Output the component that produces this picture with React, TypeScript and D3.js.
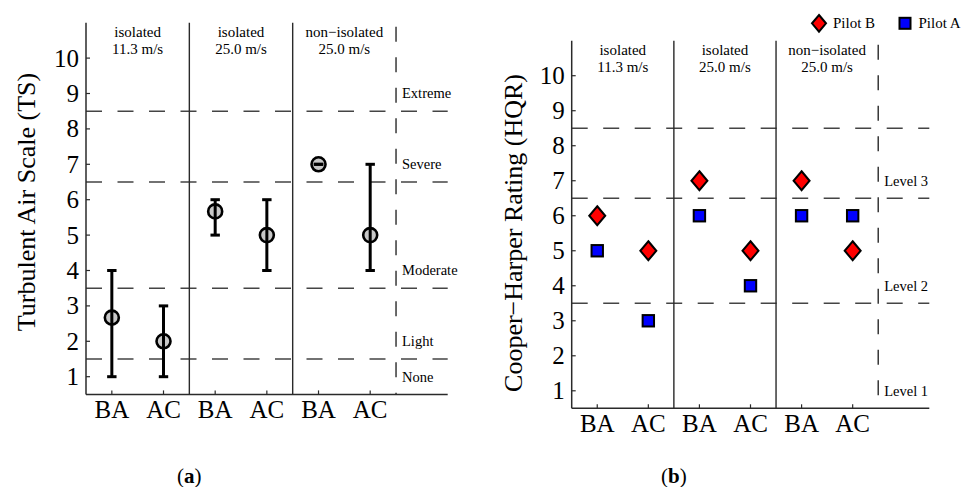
import React from 'react';
import * as d3 from 'd3';

const categories = ['BA', 'AC', 'BA', 'AC', 'BA', 'AC'];
const groupLine1 = ['isolated', 'isolated', 'non\u2212isolated'];
const groupLine2 = ['11.3 m/s', '25.0 m/s', '25.0 m/s'];
const yTickValues = [1, 2, 3, 4, 5, 6, 7, 8, 9, 10];

const tsMean = [2.67, 2, 5.67, 5, 7, 5];
const tsLow = [1, 1, 5, 4, 7, 4];
const tsHigh = [4, 3, 6, 6, 7, 7];
const tsBoundaries = [1.5, 3.5, 6.5, 8.5];
const tsLevelNames = ['None', 'Light', 'Moderate', 'Severe', 'Extreme'];
const tsLevelValues = [1, 2, 4, 7, 9];

const pilotB = [6, 5, 7, 5, 7, 5];
const pilotA = [5, 3, 6, 4, 6, 6];
const hqrBoundaries = [3.5, 6.5, 8.5];
const hqrLevelNames = ['Level 1', 'Level 2', 'Level 3'];
const hqrLevelValues = [1, 4, 7];

const FONT = '"Liberation Serif", "Times New Roman", serif';
const AXIS = '#2a2a2a';
const DASH = '#444';

type PanelProps = {
  x0: number; x1: number; yTop: number; yBottom: number;
  yLabel: string; yLabelX: number; yLabelY: number;
  boundaries: number[]; levelNames: string[]; levelValues: number[];
  caption: string; children: (x: d3.ScaleLinear<number, number>, y: d3.ScaleLinear<number, number>) => React.ReactNode;
};

function Panel(p: PanelProps) {
  const x = d3.scaleLinear().domain([0.5, 7.5]).range([p.x0, p.x1]);
  const y = d3.scaleLinear().domain([0.5, 11]).range([p.yBottom, p.yTop]);
  const positions = categories.map((_, i) => i + 1);
  const dividers = [2.5, 4.5];
  return (
    <g>
      {/* horizontal dashed boundaries */}
      {p.boundaries.map((b, i) => (
        <line key={'b' + i} x1={x(0.5)} x2={x(7.5)} y1={y(b)} y2={y(b)}
          stroke={DASH} strokeWidth={1.4} strokeDasharray="16,15.5" />
      ))}
      {/* dividers */}
      {dividers.map((d, i) => (
        <line key={'d' + i} x1={x(d)} x2={x(d)} y1={y(11)} y2={y(0.5)} stroke={AXIS} strokeWidth={1.4} />
      ))}
      <line x1={x(6.5)} x2={x(6.5)} y1={y(11)} y2={y(0.5)} stroke={AXIS} strokeWidth={1.4}
        strokeDasharray="15,15.5" strokeDashoffset={-4} />
      {/* axes */}
      <line x1={x(0.5)} x2={x(0.5)} y1={y(11)} y2={y(0.5)} stroke={AXIS} strokeWidth={1.5} />
      <line x1={x(0.5)} x2={x(7.5)} y1={y(0.5)} y2={y(0.5)} stroke={AXIS} strokeWidth={1.5} />
      {yTickValues.map(v => (
        <g key={'yt' + v}>
          <line x1={x(0.5)} x2={x(0.5) + 4} y1={y(v)} y2={y(v)} stroke={AXIS} strokeWidth={1.2} />
          <text x={x(0.5) - 7} y={y(v)} dy="0.34em" textAnchor="end" fontSize={25} fontFamily={FONT}>{v}</text>
        </g>
      ))}
      {positions.map((pos, i) => (
        <g key={'xt' + i}>
          <line x1={x(pos)} x2={x(pos)} y1={y(0.5)} y2={y(0.5) - 4} stroke={AXIS} strokeWidth={1.2} />
          <text x={x(pos)} y={y(0.5) + 24} textAnchor="middle" fontSize={25} fontFamily={FONT}>{categories[i]}</text>
        </g>
      ))}
      {/* group labels */}
      {groupLine1.map((g, i) => (
        <g key={'g' + i}>
          <text x={x(1.5 + 2 * i)} y={y(11) + 14} textAnchor="middle" fontSize={15} fontFamily={FONT}>{g}</text>
          <text x={x(1.5 + 2 * i)} y={y(11) + 31} textAnchor="middle" fontSize={15} fontFamily={FONT}>{groupLine2[i]}</text>
        </g>
      ))}
      {/* level labels */}
      {p.levelNames.map((n, i) => (
        <text key={'l' + i} x={x(6.5) + 6} y={y(p.levelValues[i])} dy="0.34em" fontSize={14.5} fontFamily={FONT}>{n}</text>
      ))}
      {/* y label */}
      <text transform={`translate(${p.yLabelX},${p.yLabelY}) rotate(-90)`} textAnchor="middle" dy="0.34em"
        fontSize={26} fontFamily={FONT}>{p.yLabel}</text>
      {/* caption */}
      <text x={x(2.5)} y={483} textAnchor="middle" fontSize={21} fontFamily={FONT}>
        <tspan>(</tspan><tspan fontWeight="bold">{p.caption}</tspan><tspan>)</tspan>
      </text>
      {p.children(x, y)}
    </g>
  );
}

export default function App() {
  return (
    <svg width={962} height={487} style={{ position: 'absolute', left: 0, top: 0, background: '#fff' }}>
      <rect width={962} height={487} fill="#fff" />
      <Panel x0={86} x1={447.7} yTop={22.7} yBottom={394.4} yLabel="Turbulent Air Scale (TS)"
        yLabelX={26} yLabelY={202} boundaries={tsBoundaries} levelNames={tsLevelNames}
        levelValues={tsLevelValues} caption="a">
        {(x, y) => (
          <g>
            {tsMean.map((m, i) => (
              <circle key={'c' + i} cx={x(i + 1)} cy={y(m)} r={7} fill="#c8c8c8" stroke="#000" strokeWidth={2.6} />
            ))}
            {tsMean.map((_, i) => {
              const cx = x(i + 1);
              return (
                <g key={'e' + i} stroke="#000" strokeWidth={3}>
                  <line x1={cx} x2={cx} y1={y(tsLow[i])} y2={y(tsHigh[i])} />
                  <line x1={cx - 4.7} x2={cx + 4.7} y1={y(tsLow[i])} y2={y(tsLow[i])} />
                  <line x1={cx - 4.7} x2={cx + 4.7} y1={y(tsHigh[i])} y2={y(tsHigh[i])} />
                </g>
              );
            })}
          </g>
        )}
      </Panel>
      <Panel x0={571.7} x1={929.3} yTop={40.7} yBottom={408.3} yLabel={'Cooper\u2212Harper Rating (HQR)'}
        yLabelX={513} yLabelY={233} boundaries={hqrBoundaries} levelNames={hqrLevelNames}
        levelValues={hqrLevelValues} caption="b">
        {(x, y) => (
          <g>
            {pilotA.map((v, i) => (
              <rect key={'a' + i} x={x(i + 1) - 5.7} y={y(v) - 5.7} width={11.4} height={11.4}
                fill="#0000ff" stroke="#000" strokeWidth={2} />
            ))}
            {pilotB.map((v, i) => (
              <path key={'bb' + i} d={`M${x(i + 1)},${y(v) - 9.5}L${x(i + 1) + 8},${y(v)}L${x(i + 1)},${y(v) + 9.5}L${x(i + 1) - 8},${y(v)}Z`}
                fill="#ff0000" stroke="#000" strokeWidth={2} />
            ))}
          </g>
        )}
      </Panel>
      {/* legend */}
      <path d="M819,15L826,23.3L819,31.6L812,23.3Z" fill="#ff0000" stroke="#000" strokeWidth={2} />
      <text x={833} y={23.3} dy="0.34em" fontSize={15} fontFamily={FONT}>Pilot B</text>
      <rect x={899.5} y={17.8} width={11} height={11} fill="#0000ff" stroke="#000" strokeWidth={2} />
      <text x={918.5} y={23.3} dy="0.34em" fontSize={15} fontFamily={FONT}>Pilot A</text>
    </svg>
  );
}
